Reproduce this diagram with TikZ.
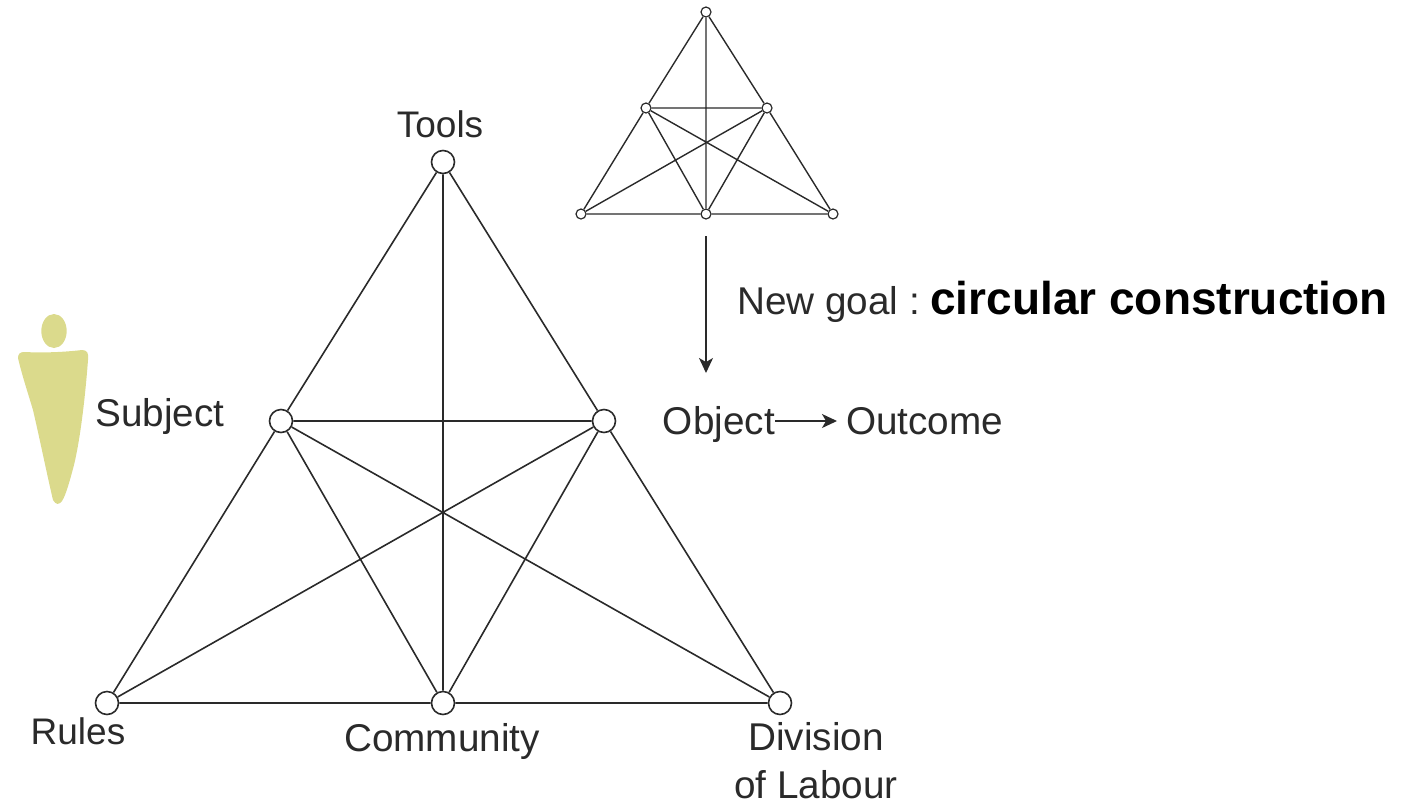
\documentclass[tikz,border=0pt]{standalone}
\usepackage{fontspec}
\setmainfont{Liberation Sans}
\usetikzlibrary{arrows.meta}
\definecolor{ink}{HTML}{2A2A2A}
\definecolor{figure}{HTML}{DBDA8C}
\tikzset{
  big/.style={circle,draw=ink,fill=white,line width=1.6pt,minimum size=23pt,inner sep=0pt},
  small/.style={circle,draw=ink,fill=white,line width=1.2pt,minimum size=10pt,inner sep=0pt},
  edgebig/.style={draw=ink,line width=1.6pt},
  edgesmall/.style={draw=ink,line width=1.4pt},
  arrowline/.style={draw=ink,line width=1.4pt,-{Stealth[length=15pt,width=14pt,inset=4pt]}},
  label/.style={text=ink,font=\fontsize{38.7}{48}\selectfont,inner sep=0pt,align=center},
  shortlabel/.style={text=ink,font=\fontsize{37}{43}\selectfont,inner sep=0pt},
}
\begin{document}
\begin{tikzpicture}[x=1pt,y=-1pt]
\useasboundingbox (0,0) rectangle (1404,804);
% large triangle
\node[big] (T) at (443,162) {};
\node[big] (SL) at (281,421) {};
\node[big] (SR) at (604,421) {};
\node[big] (R) at (107,703) {};
\node[big] (C) at (443,703) {};
\node[big] (D) at (780,703) {};
\path[edgebig] (T)--(SL) (SL)--(R) (T)--(SR) (SR)--(D) (T)--(C) (SL)--(SR) (R)--(C) (C)--(D)
  (SL)--(C) (SR)--(C) (SL)--(D) (SR)--(R);
% small triangle
\node[small] (t) at (706,12) {};
\node[small] (l) at (646,108) {};
\node[small] (r) at (767,108) {};
\node[small] (a) at (581,214) {};
\node[small] (b) at (706,214) {};
\node[small] (c) at (833,214) {};
\path[edgesmall] (t)--(l) (l)--(a) (t)--(r) (r)--(c) (t)--(b) (l)--(r) (a)--(b) (b)--(c)
  (l)--(b) (r)--(b) (l)--(c) (r)--(a);
% labels
\node[shortlabel] (tools) at (440,124) {Tools};
\node[label] (subject) at (160,416) {Subject};
\node[shortlabel] (rules) at (78,731) {Rules};
\node[label] (community) at (442,741) {Community};
\node[label,anchor=north] (division) at (816,722) {Division\\of Labour};
\node[label,anchor=east] (object) at (775,424) {Object};
\node[label,anchor=west] (outcome) at (846,421) {Outcome};
\node[label,anchor=west] (goal) at (737,302) {New goal :\hspace{-4pt} \textbf{\textcolor{black}{\fontsize{46}{50}\selectfont circular construction}}};
% arrows
\coordinate (arrowstart) at (706,236);
\coordinate (arrowend) at (706,373);
\draw[arrowline] (arrowstart) -- (arrowend);
\coordinate (objectout) at (775,421);
\coordinate (outcomein) at (837,421);
\draw[arrowline] (objectout) -- (outcomein);
% figure
\fill[figure] (54,331) ellipse [x radius=12.7, y radius=17];
\fill[figure] (24,352) .. controls (45,353) and (65,352) .. (82,350)
  .. controls (87,350) and (89,353) .. (88,360)
  .. controls (85,400) and (80,440) .. (74,465)
  .. controls (70,480) and (66,495) .. (62,501)
  .. controls (59,505) and (56,505) .. (53,500)
  .. controls (46,470) and (40,440) .. (33,410)
  .. controls (27,390) and (22,375) .. (18,358)
  .. controls (18,354) and (20,352) .. (24,352) -- cycle;
\end{tikzpicture}
\end{document}
